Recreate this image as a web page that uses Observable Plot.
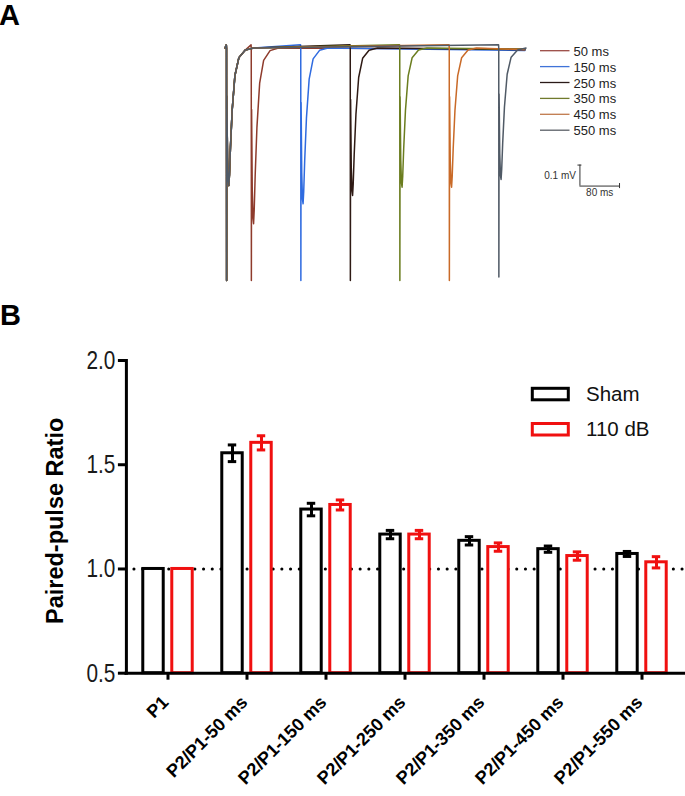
<!DOCTYPE html>
<html>
<head>
<meta charset="utf-8">
<script src="https://cdn.jsdelivr.net/npm/d3@7"></script>
<script src="https://cdn.jsdelivr.net/npm/@observablehq/plot@0.6"></script>
<style>
  body { margin: 0; background: #fff; }
  #fig { position: relative; width: 685px; height: 796px; overflow: hidden; font-family: "Liberation Sans", Arial, sans-serif; }
  #fig > svg, #fig > figure { position: absolute; left: 0; margin: 0; }
</style>
</head>
<body>
<div id="fig"></div>
<script>
// ---------------- Panel A data (example traces) ----------------
const traceLabels = ["50 ms", "150 ms", "250 ms", "350 ms", "450 ms", "550 ms"];
const intervals   = [50, 150, 250, 350, 450, 550];            // ms between pulses
const traceColors = ["#8e3b2c", "#2f6be0", "#2e1a14", "#6b7d1f", "#c96a28", "#505a66"];
const legendLineColors = ["#9a4a44", "#3f73d8", "#2a1a18", "#707a2c", "#c07a4c", "#5a5f66"];
const p1Amp = 0.655;                                          // mV, first response trough
const p2Amp = [0.837, 0.742, 0.702, 0.663, 0.663, 0.626];     // mV, second response trough
const p1Artifact = 1.107;                                     // mV, stimulus artifact depth
const p2Artifact = [1.107, 1.107, 1.107, 1.107, 1.107, 1.091];
const endDrift = [-0.005, -0.012, -0.008, -0.006, -0.008, -0.006];
const traceStart = -3, traceEnd = 603;                        // ms
// artifact shape (ms after stimulus, mV; null = artifact tip)
const artT = [-0.4, 0, 0.25];
const artV = [0.015, 0, null];
// response shape (ms after stimulus, fraction of trough)
const respT    = [0.7, 2.0, 3.5, 4.7, 6.0, 8.0, 11.5, 17, 25, 38, 55];
const respFrac = [0.35, 0.8, 0.97, 1.0, 0.92, 0.72, 0.45, 0.2, 0.07, 0.015, 0];
// scale bar: 80 ms, 0.1 mV
const scaleT = [714, 794];
const scaleV = [-0.6575, -0.5575];

// ---------------- Panel B data ----------------
const categories = ["P1", "P2/P1-50 ms", "P2/P1-150 ms", "P2/P1-250 ms", "P2/P1-350 ms", "P2/P1-450 ms", "P2/P1-550 ms"];
const groups = ["Sham", "110 dB"];
const groupColors = ["#000000", "#f01010"];
const shamMean  = [1.000, 1.555, 1.285, 1.165, 1.135, 1.095, 1.072];
const shamSem   = [0, 0.040, 0.030, 0.020, 0.020, 0.015, 0.012];
const noiseMean = [1.000, 1.605, 1.307, 1.165, 1.105, 1.062, 1.032];
const noiseSem  = [0, 0.034, 0.024, 0.020, 0.020, 0.020, 0.027];
const yDomain = [0.5, 2.0];
const yTicks = [0.5, 1.0, 1.5, 2.0];
const refLine = [1.0];
const yTitle = "Paired-pulse Ratio";

const fig = document.getElementById("fig");
const sans = "'Liberation Sans', Arial, sans-serif";

// ---------------- Panel A ----------------
const rowsA = [];
intervals.forEach((iv, k) => {
  const name = traceLabels[k];
  const pts = [];
  pts.push({t: traceStart, v: 0});
  artT.forEach((dt, i) => pts.push({t: dt, v: artV[i] === null ? -p1Artifact : artV[i]}));
  respT.forEach((dt, i) => { if (dt < iv - 0.5) pts.push({t: dt, v: -p1Amp * respFrac[i]}); });
  artT.forEach((dt, i) => pts.push({t: iv + dt, v: artV[i] === null ? -p2Artifact[k] : artV[i]}));
  respT.forEach((dt, i) => pts.push({t: iv + dt, v: -p2Amp[k] * respFrac[i]}));
  pts.push({t: traceEnd, v: endDrift[k]});
  pts.forEach(p => rowsA.push({trace: name, t: p.t, v: p.v}));
});

const capT = 8, capV = 0.012;   // scale-bar end caps (data units)
const plotA = Plot.plot({
  width: 685, height: 290, margin: 0,
  style: {background: "transparent", fontFamily: sans},
  x: {axis: null, domain: [0, 600], range: [226, 523]},
  y: {axis: null, domain: [0, -1], range: [47.5, 257.5]},
  color: {domain: traceLabels, range: traceColors},
  marks: [
    Plot.line(rowsA, {x: "t", y: "v", z: "trace", stroke: "trace", strokeWidth: 1.5, strokeLinejoin: "round"}),
    Plot.ruleX([scaleT[0]], {y1: scaleV[0], y2: scaleV[1], stroke: "#333", strokeWidth: 1}),
    Plot.ruleY([scaleV[0]], {x1: scaleT[0], x2: scaleT[1], stroke: "#333", strokeWidth: 1}),
    Plot.ruleY([scaleV[1]], {x1: scaleT[0] - capT / 2, x2: scaleT[0] + capT / 2, stroke: "#333", strokeWidth: 1}),
    Plot.ruleX([scaleT[1]], {y1: scaleV[0] - capV, y2: scaleV[0] + capV, stroke: "#333", strokeWidth: 1}),
    Plot.text(["0.1 mV"], {x: scaleT[0], y: (scaleV[0] + scaleV[1]) / 2, dx: -4, textAnchor: "end", fontSize: 10, fill: "#333"}),
    Plot.text(["80 ms"], {x: (scaleT[0] + scaleT[1]) / 2, y: scaleV[0], dy: 3, lineAnchor: "top", fontSize: 10, fill: "#333"})
  ]
});
plotA.style.top = "0px";
fig.appendChild(plotA);

// ---------------- Panel B ----------------
const rowsB = categories.flatMap((c, i) => [
  {cat: c, group: groups[0], mean: shamMean[i], sem: shamSem[i]},
  {cat: c, group: groups[1], mean: noiseMean[i], sem: noiseSem[i]}
]);
const bTop = 300, bHeight = 496;
const mLeft = 125.9, mRight = 2.2, mTop = 60, mBottom = 123.3;
const bw = (685 - mLeft - mRight) / categories.length;
const barW = 21, capW = 9, offsets = [-14.5, 14.5];

const marksB = [
  Plot.ruleY(refLine, {stroke: "#000", strokeWidth: 3, strokeDasharray: "0.1 8.6", strokeLinecap: "round", insetRight: -2.2, insetLeft: 8})
];
groups.forEach((g, gi) => {
  const data = rowsB.filter(d => d.group === g);
  const err = data.filter(d => d.sem > 0);
  const col = groupColors[gi];
  marksB.push(
    Plot.barY(data, {x: "cat", y1: yDomain[0], y2: "mean", fill: "white", stroke: col, strokeWidth: 3,
      dx: offsets[gi], insetLeft: (bw - barW) / 2, insetRight: (bw - barW) / 2}),
    Plot.ruleX(err, {x: "cat", y1: d => d.mean - d.sem, y2: d => d.mean + d.sem, stroke: col, strokeWidth: 3, dx: offsets[gi]}),
    Plot.tickY(err, {x: "cat", y: d => d.mean + d.sem, stroke: col, strokeWidth: 3, dx: offsets[gi], insetLeft: (bw - capW) / 2, insetRight: (bw - capW) / 2}),
    Plot.tickY(err, {x: "cat", y: d => d.mean - d.sem, stroke: col, strokeWidth: 3, dx: offsets[gi], insetLeft: (bw - capW) / 2, insetRight: (bw - capW) / 2})
  );
});
marksB.push(
  Plot.frame({anchor: "left", stroke: "#000", strokeWidth: 3}),
  Plot.ruleY([yDomain[0]], {stroke: "#000", strokeWidth: 3, insetRight: -2.2, insetLeft: -1.5}),
  Plot.axisY({ticks: yTicks, tickFormat: d3.format(".1f"), tickSize: 8, tickPadding: 3, fontSize: 26, strokeWidth: 3, label: null, fill: "#1a1a1a"}),
  Plot.axisX({tickSize: 7, strokeWidth: 3, label: null, tickFormat: () => ""}),
  Plot.text(categories, {x: d => d, y: yDomain[0], dx: 1.7, dy: 30.3, rotate: -45, textAnchor: "end", lineAnchor: "bottom",
    fontSize: 18, fontWeight: "bold", fill: "#000"}),
  Plot.text([yTitle], {frameAnchor: "left", rotate: -90, textAnchor: "middle", dx: -71, dy: 4, fontSize: 23.5, fontWeight: "bold", fill: "#000"})
);

const plotB = Plot.plot({
  width: 685, height: bHeight,
  marginLeft: mLeft, marginRight: mRight, marginTop: mTop, marginBottom: mBottom,
  style: {background: "transparent", fontFamily: sans, overflow: "visible"},
  x: {domain: categories, padding: 0},
  y: {domain: yDomain},
  marks: marksB
});
plotB.style.top = bTop + "px";
fig.appendChild(plotB);
// narrow, light-looking y tick labels
plotB.querySelectorAll('g[aria-label="y-axis tick label"] text').forEach(t => {
  t.setAttribute("transform", (t.getAttribute("transform") || "") + " scale(0.8,1)");
});

// ---------------- Overlay: panel letters and legends ----------------
const ov = d3.select(fig).append("svg")
  .attr("width", 685).attr("height", 796)
  .style("position", "absolute").style("left", "0px").style("top", "0px")
  .style("font-family", sans);
ov.append("text").attr("x", -1).attr("y", 25).attr("font-size", 29).attr("font-weight", "bold").text("A");
ov.append("text").attr("x", 0).attr("y", 325).attr("font-size", 29).attr("font-weight", "bold").text("B");

traceLabels.forEach((lab, i) => {
  const y = 50.7 + i * 15.9;
  ov.append("line").attr("x1", 540).attr("x2", 569.5).attr("y1", y).attr("y2", y)
    .attr("stroke", legendLineColors[i]).attr("stroke-width", 1.3);
  ov.append("text").attr("x", 573.5).attr("y", y + 5).attr("font-size", 13).attr("fill", "#222").text(lab);
});

groups.forEach((g, i) => {
  const y = i === 0 ? 388.3 : 423.5;
  ov.append("rect").attr("x", 532.3).attr("y", y).attr("width", 36).attr("height", 11.5)
    .attr("fill", "none").attr("stroke", groupColors[i]).attr("stroke-width", 3);
  ov.append("text").attr("x", 586).attr("y", y + 12.6).attr("font-size", 20.5).attr("fill", "#111").text(g);
});
</script>
</body>
</html>
